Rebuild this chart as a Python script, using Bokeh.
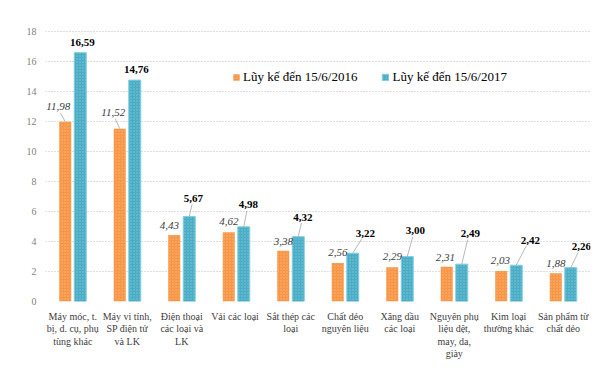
from bokeh.plotting import figure
from bokeh.models import FixedTicker, Legend, LegendItem
from bokeh.core.properties import value
from bokeh.embed import file_html
from bokeh.resources import INLINE

categories = [
    "Máy móc, t.\nbị, d. cụ, phụ\ntùng khác",
    "Máy vi tính,\nSP điện tử\nvà LK",
    "Điện thoại\ncác loại và\nLK",
    "Vải  các loại",
    "Sắt thép các\nloại",
    "Chất dẻo\nnguyên liệu",
    "Xăng dầu\ncác loại",
    "Nguyên phụ\nliệu dệt,\nmay, da,\ngiày",
    "Kim loại\nthường khác",
    "Sản phẩm từ\nchất dẻo",
]
series_names = ["Lũy kế đến 15/6/2016", "Lũy kế đến 15/6/2017"]
v2016 = [11.98, 11.52, 4.43, 4.62, 3.38, 2.56, 2.29, 2.31, 2.03, 1.88]
v2017 = [16.59, 14.76, 5.67, 4.98, 4.32, 3.22, 3.00, 2.49, 2.42, 2.26]
y_ticks = [0, 2, 4, 6, 8, 10, 12, 14, 16, 18]

# label placement (pixel offsets from bar top centre), style only
off16 = [(-7, 15), (-6.5, 16), (-5, 9.5), (0, 10.7), (0, 9), (0, 10.6), (0, 10.6), (-1.5, 9.4), (-1, 10.6), (0, 10)]
off17 = [(2, 10), (1.5, 10.6), (4, 18), (4.5, 22), (4.5, 19.7), (12.5, 20), (8, 26), (8.5, 30.6), (14, 25), (10.5, 21)]
lead16 = [True, True] + [False] * 8
lead17 = [False, False] + [True] * 8

W, H = 594, 365
left, right, top, bottom = 45, 4, 22, 64
ymax = 18.6
fw = W - left - right
fh = H - top - bottom
n = len(categories)
pxx = fw / n          # px per x unit
pxy = fh / ymax       # px per y unit

ORANGE = "#F79646"
TEAL = "#4BACC6"
FONT = "Liberation Serif"

p = figure(width=W, height=H, output_backend="svg", toolbar_location=None,
           x_range=(-0.5, n - 0.5), y_range=(0, ymax),
           min_border_left=left, min_border_right=right,
           min_border_top=top, min_border_bottom=bottom)
p.outline_line_color = None
p.background_fill_color = "white"

xs = list(range(n))
dx_bar = 7.5 / pxx
bw = 12 / pxx
x16 = [x - dx_bar for x in xs]
x17 = [x + dx_bar for x in xs]

r16 = p.vbar(x=x16, top=v2016, width=bw, fill_color=ORANGE, line_color=None,
             hatch_pattern="dot", hatch_color="#FBC49A", hatch_scale=3, hatch_weight=0.8, hatch_alpha=0.6)
r17 = p.vbar(x=x17, top=v2017, width=bw, fill_color=TEAL, line_color="#7FD0E0", line_width=1,
             hatch_pattern="dot", hatch_color="#9ED8E6", hatch_scale=3, hatch_weight=0.8, hatch_alpha=0.6)

def fmt(v):
    return f"{v:.2f}".replace(".", ",")

def labels(xb, vals, offs, leads, italic, color):
    lx = [x + o[0] / pxx for x, o in zip(xb, offs)]
    ly = [v + o[1] / pxy for v, o in zip(vals, offs)]
    p.text(x=lx, y=ly, text=[fmt(v) for v in vals], text_align="center", text_baseline="middle",
           text_font=value(FONT), text_font_size="11px",
           text_font_style="italic" if italic else "bold", text_color=color)
    sx0, sy0, sx1, sy1 = [], [], [], []
    for x, v, a, b, d in zip(xb, vals, lx, ly, leads):
        if d:
            sx0.append(a + (x - a) * 0.3)
            sy0.append(b - 6 / pxy)
            sx1.append(x)
            sy1.append(v)
    if sx0:
        p.segment(x0=sx0, y0=sy0, x1=sx1, y1=sy1, line_color="#A6A6A6", line_width=0.8)

labels(x16, v2016, off16, lead16, True, "#404040")
labels(x17, v2017, off17, lead17, False, "#000000")

# axes
p.xaxis.ticker = FixedTicker(ticks=xs)
p.xaxis.major_label_overrides = {i: c for i, c in enumerate(categories)}
p.xaxis.axis_line_color = None
p.xaxis.major_tick_line_color = None
p.xaxis.minor_tick_line_color = None
p.xaxis.major_tick_out = 0
p.xaxis.major_label_standoff = 9
p.xaxis.major_label_text_font = FONT
p.xaxis.major_label_text_font_size = "10px"
p.xaxis.major_label_text_color = "#404040"
p.xaxis.major_label_text_line_height = 1.15

p.yaxis.ticker = FixedTicker(ticks=y_ticks)
p.yaxis.axis_line_color = None
p.yaxis.major_tick_line_color = None
p.yaxis.minor_tick_line_color = None
p.yaxis.major_tick_out = 0
p.yaxis.major_label_standoff = 9
p.yaxis.major_label_text_font = FONT
p.yaxis.major_label_text_font_size = "10px"
p.yaxis.major_label_text_color = "#7F7F7F"

p.xgrid.grid_line_color = None
p.ygrid.ticker = FixedTicker(ticks=y_ticks)
p.ygrid.grid_line_color = "#BFBFBF"
p.ygrid.grid_line_dash = "1 2"
p.ygrid.grid_line_width = 1

legend = Legend(items=[LegendItem(label=series_names[0], renderers=[r16]),
                       LegendItem(label=series_names[1], renderers=[r17])],
                orientation="horizontal", location=(187, 216),
                padding=0, margin=0, spacing=24, label_standoff=3,
                glyph_width=8, glyph_height=8,
                label_text_font=FONT, label_text_font_size="13px", label_text_color="#000000",
                border_line_color=None, background_fill_alpha=0)
p.add_layout(legend)

open("out.html", "w").write(file_html(p, INLINE))
